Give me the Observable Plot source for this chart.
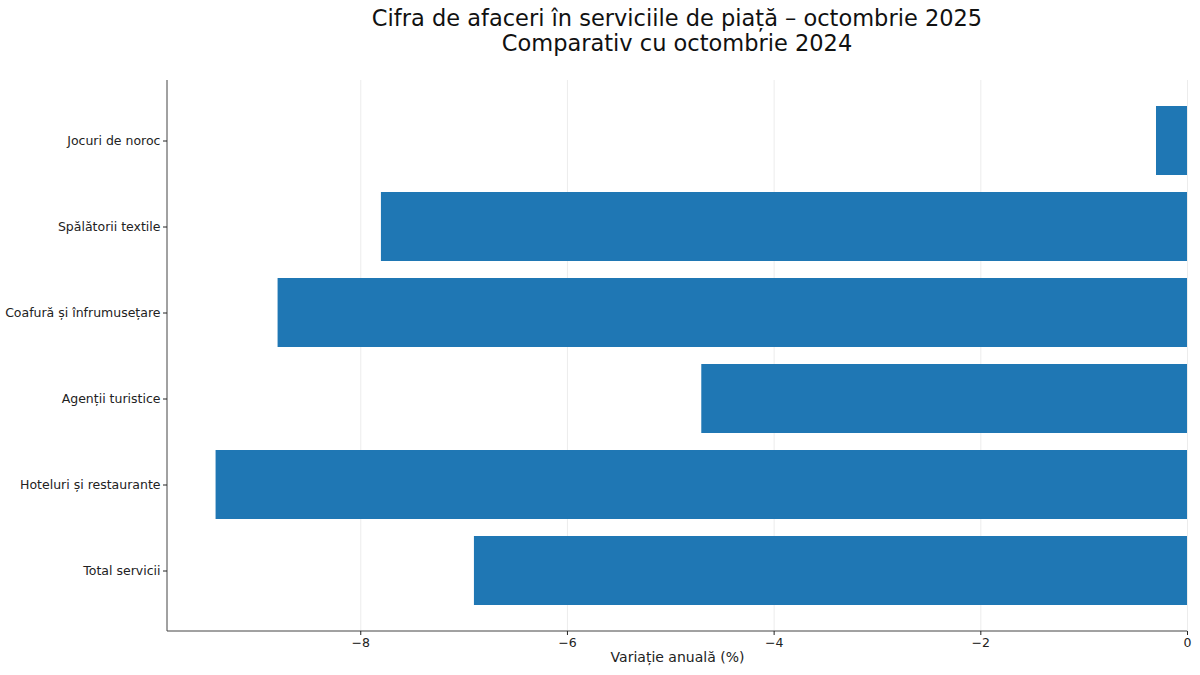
<!DOCTYPE html>
<html><head><meta charset="utf-8">
<script src="https://cdn.jsdelivr.net/npm/d3@7"></script>
<script src="https://cdn.jsdelivr.net/npm/@observablehq/plot@0.6"></script>
<style>
body{margin:0;background:#fff;width:1200px;height:675px;overflow:hidden;font-family:"DejaVu Sans",sans-serif}
#title{position:absolute;left:167px;width:1020px;top:6px;text-align:center;font-size:22.5px;line-height:25px;color:#111}
#chart{position:absolute;left:0;top:68px}
</style></head><body>
<div id="title">Cifra de afaceri în serviciile de piață – octombrie 2025<br>Comparativ cu octombrie 2024</div>
<div id="chart"></div>
<script>
const categories = ["Total servicii","Hoteluri și restaurante","Agenții turistice","Coafură și înfrumusețare","Spălătorii textile","Jocuri de noroc"];
const values = [-6.9,-9.4,-4.7,-8.8,-7.8,-0.3];
const xTicks = [-8,-6,-4,-2,0];
const xLabel = "Variație anuală (%)";

const data = categories.map((c,i)=>({category:c, value:values[i]}));
const xDomain = [-9.87, 0];

const spines = (index, scales, values, dims) => {
  const g = d3.create("svg:g").attr("stroke","#444").attr("stroke-width",1);
  const l = dims.marginLeft, b = dims.height - dims.marginBottom, t = dims.marginTop, r = dims.width - dims.marginRight;
  g.append("line").attr("x1",l).attr("x2",l).attr("y1",t).attr("y2",b);
  g.append("line").attr("x1",l).attr("x2",r).attr("y1",b).attr("y2",b);
  return g.node();
};

const chart = Plot.plot({
  width:1200, height:607,
  marginTop:12, marginBottom:44, marginLeft:167, marginRight:13,
  style:{fontFamily:'"DejaVu Sans",sans-serif', fontSize:"12.5px", color:"#222", background:"white", overflow:"visible"},
  x:{domain:xDomain, ticks:xTicks, tickFormat:d3.format("d")},
  y:{domain:categories.slice().reverse(), paddingInner:0.2, paddingOuter:0.27},
  marks:[
    Plot.gridX(xTicks, {stroke:"#b0b0b0", strokeOpacity:0.3, strokeWidth:0.8}),
    Plot.barX(data, {x:"value", y:"category", fill:"#1f77b4"}),
    spines,
    Plot.axisX(xTicks, {tickSize:4, tickPadding:3, label:null, tickFormat:d3.format("d"), fontSize:12.5}),
    Plot.axisY({tickSize:4, tickPadding:3, label:null, fontSize:12.5}),
    Plot.text([xLabel], {frameAnchor:"bottom", dy:30, fontSize:14, fill:"#222"})
  ]
});
document.getElementById("chart").appendChild(chart);
</script>
</body></html>
